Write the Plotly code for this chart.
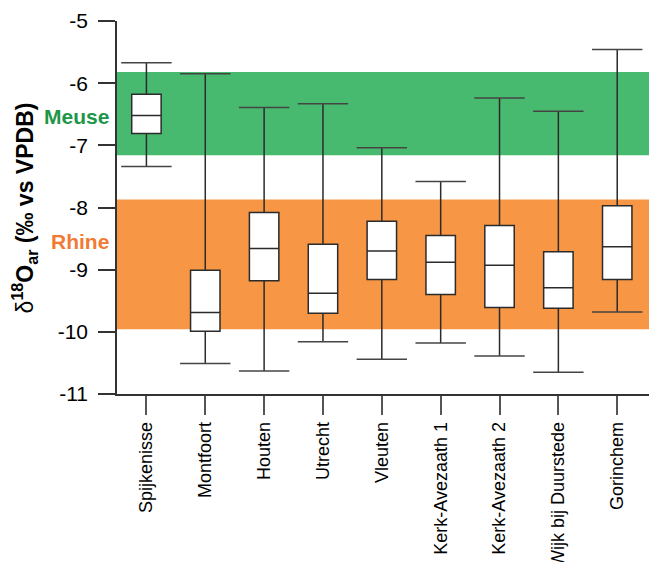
import plotly.graph_objects as go

# Sampling sites along the Rhine/Meuse delta
sites = ["Spijkenisse", "Montfoort", "Houten", "Utrecht", "Vleuten",
         "Kerk-Avezaath 1", "Kerk-Avezaath 2", "Wijk bij Duurstede", "Gorinchem"]

# Box statistics of δ18O_ar (‰ vs VPDB) per site
upper = [-5.67, -5.85, -6.39, -6.33, -7.04, -7.58, -6.24, -6.45, -5.46]
q3 = [-6.18, -9.01, -8.08, -8.59, -8.22, -8.45, -8.29, -8.71, -7.97]
median = [-6.52, -9.69, -8.66, -9.38, -8.70, -8.88, -8.93, -9.29, -8.63]
q1 = [-6.81, -9.99, -9.18, -9.70, -9.16, -9.40, -9.61, -9.62, -9.16]
lower = [-7.34, -10.51, -10.63, -10.16, -10.44, -10.18, -10.39, -10.65, -9.68]

# Reference ranges of river water
meuse_range = [-5.82, -7.16]
rhine_range = [-7.87, -9.96]

y_ticks = [-11, -10, -9, -8, -7, -6, -5]

FONT = "Liberation Sans, Arial, sans-serif"
GREEN_BAND = "rgb(72,186,112)"
ORANGE_BAND = "rgb(247,150,69)"
GREEN_TEXT = "rgb(30,150,72)"
ORANGE_TEXT = "rgb(242,122,52)"
LINE = "#2b2b2b"

fig = go.Figure()

fig.add_trace(go.Box(
    x=sites, q1=q1, median=median, q3=q3,
    lowerfence=lower, upperfence=upper,
    boxpoints=False, whiskerwidth=0, width=0.5,
    fillcolor="white", line=dict(color=LINE, width=1.5),
    showlegend=False, hoverinfo="skip",
))

# whisker caps
fig.add_trace(go.Scatter(
    x=sites + sites, y=upper + lower, mode="markers",
    marker=dict(symbol="line-ew", size=36,
                line=dict(color="#444", width=1.5)),
    showlegend=False, hoverinfo="skip",
))

# river reference bands
for rng, col in [(meuse_range, GREEN_BAND), (rhine_range, ORANGE_BAND)]:
    fig.add_shape(type="rect", xref="paper", yref="y",
                  x0=0, x1=1, y0=rng[1], y1=rng[0],
                  fillcolor=col, line=dict(width=0), layer="below")

fig.add_annotation(text="<b>Meuse</b>", xref="paper", yref="y",
                   x=-0.012, y=-6.53, xanchor="right",
                   yanchor="middle", showarrow=False,
                   font=dict(family=FONT, size=21, color=GREEN_TEXT))
fig.add_annotation(text="<b>Rhine</b>", xref="paper", yref="y",
                   x=-0.012, y=-8.54, xanchor="right",
                   yanchor="middle", showarrow=False,
                   font=dict(family=FONT, size=21, color=ORANGE_TEXT))

fig.add_annotation(text="δ<b><sup>18</sup>O<sub>ar</sub> (‰ vs VPDB)</b>",
                   xref="paper", yref="paper", x=-0.175, y=0.5,
                   xanchor="center", yanchor="middle", textangle=-90,
                   showarrow=False,
                   font=dict(family=FONT, size=23, color="black"))

fig.update_layout(
    width=649, height=562,
    margin=dict(l=117, r=0, t=21, b=168, pad=0),
    paper_bgcolor="white", plot_bgcolor="white",
    font=dict(family=FONT, color="black"),
    xaxis=dict(
        type="category", categoryorder="array", categoryarray=sites,
        range=[-0.5, 8.54], showgrid=False, zeroline=False,
        showline=True, linecolor="#333", linewidth=1.5,
        ticks="outside", ticklen=19, tickwidth=1.5, tickcolor="#555",
        tickangle=-90, automargin=False,
        tickfont=dict(family=FONT, size=18, color="black"),
    ),
    yaxis=dict(
        range=[-11, -5], tickvals=y_ticks,
        ticktext=[str(v) for v in y_ticks],
        showgrid=False, zeroline=False,
        showline=True, linecolor="#333", linewidth=1.5,
        ticks="outside", ticklen=17, tickwidth=1.5, tickcolor="#333",
        ticklabelstandoff=6, automargin=False,
        tickfont=dict(family=FONT, size=21, color="black"),
    ),
)

fig.write_html("out.html")
